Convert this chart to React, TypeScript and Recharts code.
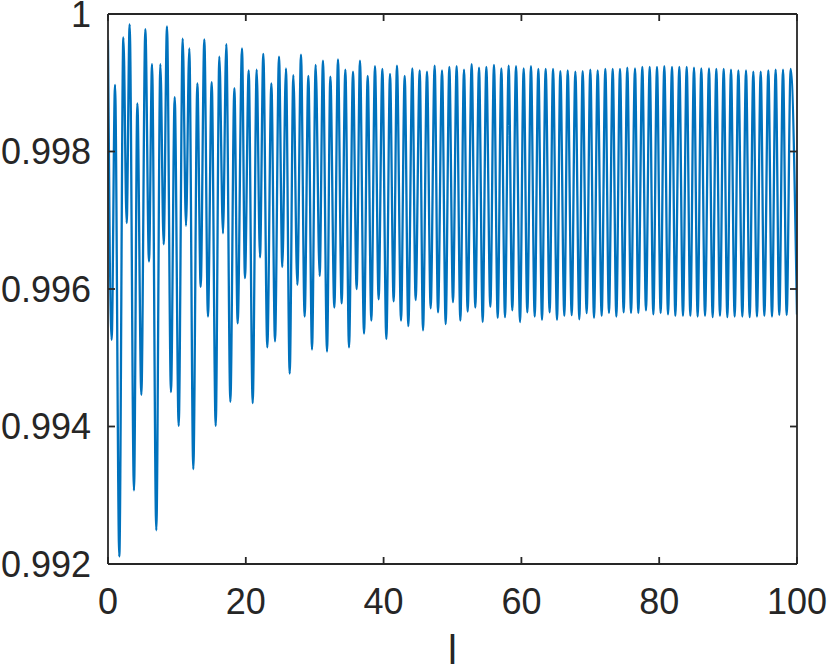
import React from 'react';
import { LineChart, Line, XAxis, YAxis } from 'recharts';

// Local maxima of the oscillation (x, value)
const PEAK_X = [
  0, 1.02, 2.23, 3.14, 4.26, 5.42, 6.39, 7.6, 8.56, 9.68, 10.84, 11.8, 12.97, 13.98, 15.05, 16.16, 17.17, 18.34, 19.45, 20.42, 21.58, 22.54, 23.71, 24.82,
  25.83, 26.9, 28.01, 29.08, 30.14, 31.2, 32.27, 33.38, 34.45, 35.56, 36.57, 37.69, 38.75, 39.82, 40.93, 41.94, 43.06, 44.17, 45.24, 46.3, 47.41, 48.48, 49.54,
  50.6, 51.67, 52.78, 53.85, 54.91, 56.02, 57.09, 58.15, 59.22, 60.33, 61.39, 62.46, 63.52, 64.59, 65.65, 66.72, 67.83, 68.89, 70.0, 71.07, 72.18, 73.25, 74.31,
  75.37, 76.49, 77.55, 78.62, 79.68, 80.74, 81.86, 82.92, 83.99, 85.05, 86.11, 87.23, 88.29, 89.36, 90.42, 91.49, 92.6, 93.66, 94.73, 95.84, 96.9, 97.97, 99.08,
];
const PEAK_Y = [
  0.99962, 0.99897, 0.99966, 0.99985, 0.9987, 0.99978, 0.99927, 0.99927, 0.99982, 0.99879, 0.99964, 0.9995, 0.99899, 0.99963, 0.99901, 0.99938, 0.99956, 0.99892, 0.9995, 0.99918, 0.99919, 0.99942, 0.99899, 0.99938,
  0.99921, 0.99911, 0.99941, 0.9991, 0.99926, 0.99932, 0.99909, 0.99934, 0.99919, 0.99916, 0.99932, 0.9991, 0.99924, 0.9992, 0.99913, 0.99925, 0.9991, 0.99921, 0.99918, 0.99916, 0.99925, 0.99918, 0.99923,
  0.99924, 0.99919, 0.99927, 0.99922, 0.99923, 0.99926, 0.99921, 0.99925, 0.99924, 0.99921, 0.99924, 0.9992, 0.9992, 0.9992, 0.99917, 0.99918, 0.99916, 0.99917, 0.99919, 0.99918, 0.9992, 0.9992, 0.9992,
  0.99922, 0.99921, 0.99923, 0.99923, 0.99923, 0.99924, 0.99923, 0.99923, 0.99923, 0.99922, 0.99921, 0.99921, 0.9992, 0.9992, 0.99919, 0.99918, 0.99918, 0.99916, 0.99916, 0.99918, 0.99919, 0.99919, 0.9992,
];

// Local minima of the oscillation (x, value)
const TROUGH_X = [
  0.53, 1.64, 2.71, 3.77, 4.84, 5.95, 7.01, 8.08, 9.14, 10.26, 11.32, 12.38, 13.45, 14.51, 15.63, 16.69, 17.76, 18.82, 19.88, 21.0, 22.06, 23.12, 24.24,
  25.3, 26.37, 27.48, 28.54, 29.61, 30.72, 31.79, 32.85, 33.91, 34.98, 36.09, 37.16, 38.22, 39.28, 40.4, 41.46, 42.53, 43.59, 44.65, 45.72, 46.83, 47.9, 49.01,
  50.07, 51.14, 52.2, 53.31, 54.38, 55.49, 56.56, 57.62, 58.68, 59.8, 60.86, 61.93, 62.99, 64.1, 65.17, 66.23, 67.3, 68.41, 69.47, 70.54, 71.65, 72.71, 73.78,
  74.84, 75.91, 76.97, 78.08, 79.15, 80.21, 81.28, 82.34, 83.45, 84.52, 85.58, 86.65, 87.76, 88.82, 89.89, 90.95, 92.07, 93.13, 94.19, 95.26, 96.37, 97.43, 98.5, 100,
];
const TROUGH_Y = [
  0.99526, 0.99211, 0.99696, 0.99307, 0.99446, 0.9964, 0.99249, 0.99665, 0.9945, 0.99401, 0.99692, 0.99338, 0.99603, 0.9956, 0.99401, 0.99681, 0.99436, 0.9955, 0.99616, 0.99434, 0.99646, 0.99515, 0.99524,
  0.99632, 0.99477, 0.99606, 0.9956, 0.99512, 0.99619, 0.99509, 0.99573, 0.99579, 0.99515, 0.996, 0.99535, 0.99554, 0.99585, 0.99527, 0.99582, 0.99554, 0.99546, 0.99584, 0.9954, 0.99572, 0.99566, 0.99549,
  0.99581, 0.99554, 0.99567, 0.99573, 0.99552, 0.99574, 0.99558, 0.99559, 0.99569, 0.99552, 0.99566, 0.9956, 0.99555, 0.99566, 0.99555, 0.99561, 0.99562, 0.99556, 0.99565, 0.99558, 0.99561, 0.99565, 0.9956,
  0.99566, 0.99565, 0.99565, 0.99569, 0.99563, 0.99565, 0.99563, 0.99561, 0.99561, 0.99561, 0.9956, 0.99561, 0.99559, 0.99561, 0.99559, 0.9956, 0.9956, 0.99559, 0.9956, 0.99561, 0.9956, 0.99562, 0.99562, 0.99563,
];

const X_TICKS = [0, 20, 40, 60, 80, 100];
const Y_TICKS = [0.992, 0.994, 0.996, 0.998, 1];
const X_LABEL = 'l';

const data = [
  ...PEAK_X.map((x, i) => ({ x, y: PEAK_Y[i] })),
  ...TROUGH_X.map((x, i) => ({ x, y: TROUGH_Y[i] })),
].sort((a, b) => a.x - b.x);

const FONT = '"Liberation Sans", Arial, Helvetica, sans-serif';
const AXIS = '#262626';
const LINE = '#0072BD';

const fmtY = (v: number) => (v === 1 ? '1' : v.toFixed(3));
const noTick = () => null;

export default function App() {
  return (
    <div style={{ position: 'absolute', left: 0, top: 0, width: 830, height: 664, background: '#fff' }}>
      <LineChart width={830} height={664} data={data} margin={{ top: 0, right: 0, bottom: 0, left: 0 }}>
        <XAxis
          xAxisId="b"
          dataKey="x"
          type="number"
          domain={[0, 100]}
          allowDataOverflow
          ticks={X_TICKS}
          interval={0}
          orientation="bottom"
          height={100}
          tickSize={-7}
          tickMargin={31}
          stroke={AXIS}
          strokeWidth={1.8}
          tick={{ fill: AXIS, fontSize: 36, fontFamily: FONT }}
          label={{ value: X_LABEL, position: 'insideBottom', offset: 0, fill: AXIS, fontSize: 40, fontFamily: FONT }}
        />
        <XAxis
          xAxisId="t"
          dataKey="x"
          type="number"
          domain={[0, 100]}
          allowDataOverflow
          ticks={X_TICKS}
          interval={0}
          orientation="top"
          height={14}
          tickSize={-7}
          stroke={AXIS}
          strokeWidth={1.8}
          tick={noTick}
        />
        <YAxis
          yAxisId="l"
          type="number"
          domain={[0.992, 1]}
          allowDataOverflow
          ticks={Y_TICKS}
          interval={0}
          orientation="left"
          width={108}
          tickSize={-7}
          tickMargin={24}
          stroke={AXIS}
          strokeWidth={1.8}
          tickFormatter={fmtY}
          tick={{ fill: AXIS, fontSize: 36, fontFamily: FONT }}
        />
        <YAxis
          yAxisId="r"
          type="number"
          domain={[0.992, 1]}
          allowDataOverflow
          ticks={Y_TICKS}
          interval={0}
          orientation="right"
          width={33}
          tickSize={-7}
          stroke={AXIS}
          strokeWidth={1.8}
          tick={noTick}
        />
        <Line
          xAxisId="b"
          yAxisId="l"
          dataKey="y"
          type="monotone"
          stroke={LINE}
          strokeWidth={2.3}
          dot={false}
          activeDot={false}
          isAnimationActive={false}
        />
      </LineChart>
    </div>
  );
}
